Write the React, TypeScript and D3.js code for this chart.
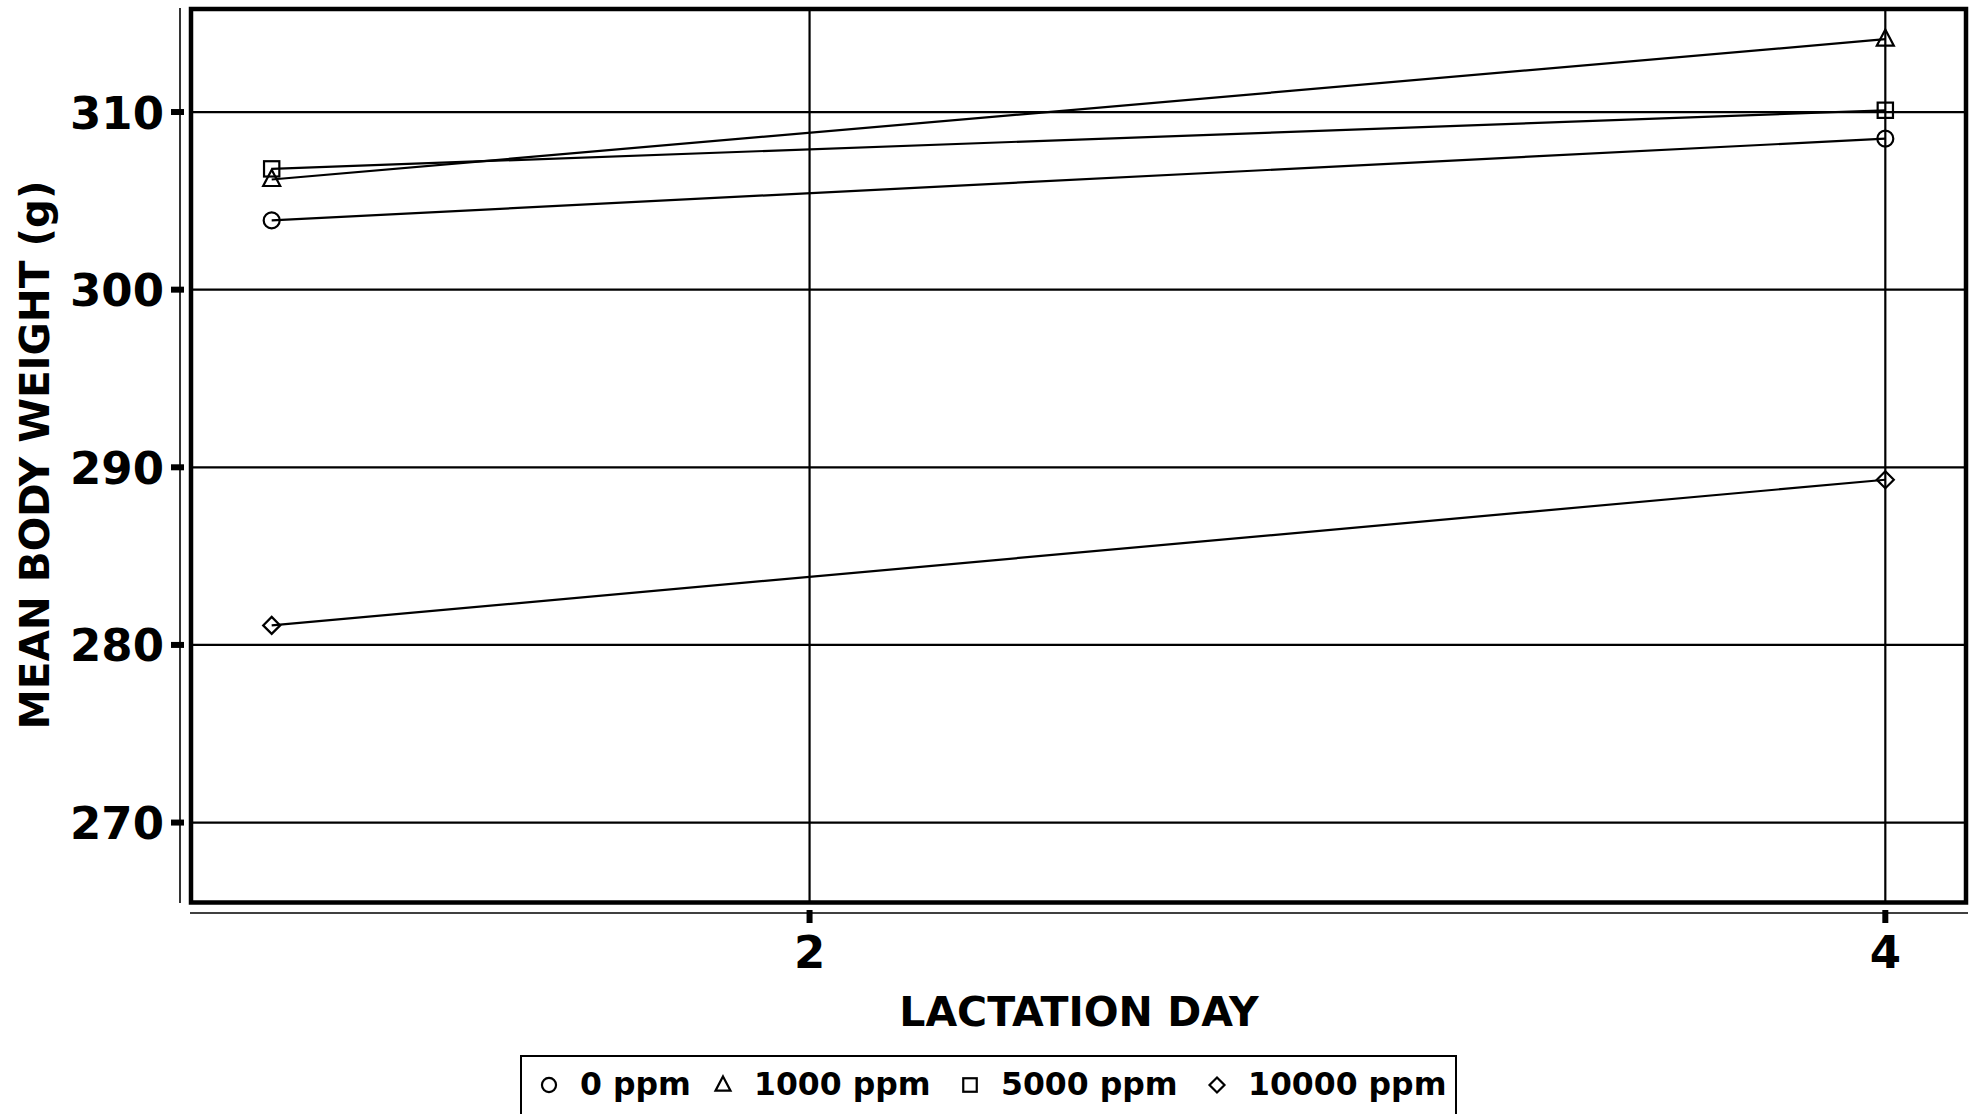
import React from "react";
import * as d3 from "d3";

const days = [1, 4];
const series = ["0 ppm", "1000 ppm", "5000 ppm", "10000 ppm"];
const ppm0 = [303.9, 308.5];
const ppm1000 = [306.2, 314.1];
const ppm5000 = [306.8, 310.1];
const ppm10000 = [281.1, 289.3];
const symbols = ["circle", "triangle", "square", "diamond"];
const yTicks = [270, 280, 290, 300, 310];
const xTicks = [2, 4];

const W = 1978;
const H = 1114;
const FONT = "'DejaVu Sans', sans-serif";

function Marker({ type, x, y, s }: { type: string; x: number; y: number; s: number }) {
  const sw = 2.2;
  if (type === "circle") return <circle cx={x} cy={y} r={s * 0.47} fill="none" stroke="#000" strokeWidth={sw} />;
  if (type === "square")
    return <rect x={x - s * 0.45} y={y - s * 0.45} width={s * 0.9} height={s * 0.9} fill="none" stroke="#000" strokeWidth={sw} />;
  if (type === "triangle") {
    const h = s * 0.95;
    const w = s * 1.0;
    return (
      <path
        d={`M${x},${y - h * 0.6} L${x + w / 2},${y + h * 0.4} L${x - w / 2},${y + h * 0.4} Z`}
        fill="none"
        stroke="#000"
        strokeWidth={sw}
      />
    );
  }
  const r = s * 0.5;
  return <path d={`M${x},${y - r} L${x + r},${y} L${x},${y + r} L${x - r},${y} Z`} fill="none" stroke="#000" strokeWidth={sw} />;
}

export default function App() {
  const x = d3.scaleLinear().domain([0.85, 4.15]).range([191, 1966]);
  const y = d3.scaleLinear().domain([265.5, 315.8]).range([902.5, 9]);
  const allSeries = [ppm0, ppm1000, ppm5000, ppm10000];
  const line = d3
    .line<number>()
    .x((_, i) => x(days[i]))
    .y((d) => y(d));

  const legendX = [549, 723, 970, 1217];

  return (
    <svg width={W} height={H} style={{ position: "absolute", left: 0, top: 0, background: "#fff" }} fontFamily={FONT}>
      <rect x={0} y={0} width={W} height={H} fill="#fff" />
      {yTicks.map((t) => (
        <line key={"gy" + t} x1={191} x2={1966} y1={y(t)} y2={y(t)} stroke="#000" strokeWidth={2.2} />
      ))}
      {xTicks.map((t) => (
        <line key={"gx" + t} x1={x(t)} x2={x(t)} y1={9} y2={902.5} stroke="#000" strokeWidth={2.2} />
      ))}
      {allSeries.map((s, i) => (
        <path key={"l" + i} d={line(s) || ""} fill="none" stroke="#000" strokeWidth={2.2} />
      ))}
      {allSeries.map((s, i) =>
        s.map((v, j) => <Marker key={"m" + i + "-" + j} type={symbols[i]} x={x(days[j])} y={y(v)} s={17} />)
      )}
      <rect x={191} y={9} width={1966 - 191} height={902.5 - 9} fill="none" stroke="#000" strokeWidth={4.5} />
      <line x1={180} x2={180} y1={8} y2={903} stroke="#000" strokeWidth={1.6} />
      {yTicks.map((t) => (
        <g key={"yt" + t}>
          <line x1={171} x2={184} y1={y(t)} y2={y(t)} stroke="#000" strokeWidth={6} />
          <text x={164} y={y(t) + 16.5} textAnchor="end" fontSize={45} fontWeight="bold">
            {t}
          </text>
        </g>
      ))}
      <text transform={`translate(49,455) rotate(-90)`} textAnchor="middle" fontSize={40.5} fontWeight="bold">
        MEAN BODY WEIGHT (g)
      </text>
      <line x1={190} x2={1968} y1={913} y2={913} stroke="#000" strokeWidth={1.6} />
      {xTicks.map((t) => (
        <g key={"xt" + t}>
          <line x1={x(t)} x2={x(t)} y1={910} y2={923} stroke="#000" strokeWidth={6} />
          <text x={x(t)} y={968} textAnchor="middle" fontSize={45} fontWeight="bold">
            {t}
          </text>
        </g>
      ))}
      <text x={1079} y={1026} textAnchor="middle" fontSize={41} fontWeight="bold">
        LACTATION DAY
      </text>
      <rect x={521} y={1056} width={1456 - 521} height={70} fill="none" stroke="#000" strokeWidth={2} />
      {series.map((name, i) => (
        <g key={"lg" + i}>
          <Marker type={symbols[i]} x={legendX[i]} y={1085} s={15} />
          <text x={legendX[i] + 31} y={1095} fontSize={31.5} fontWeight="bold">
            {name}
          </text>
        </g>
      ))}
    </svg>
  );
}
